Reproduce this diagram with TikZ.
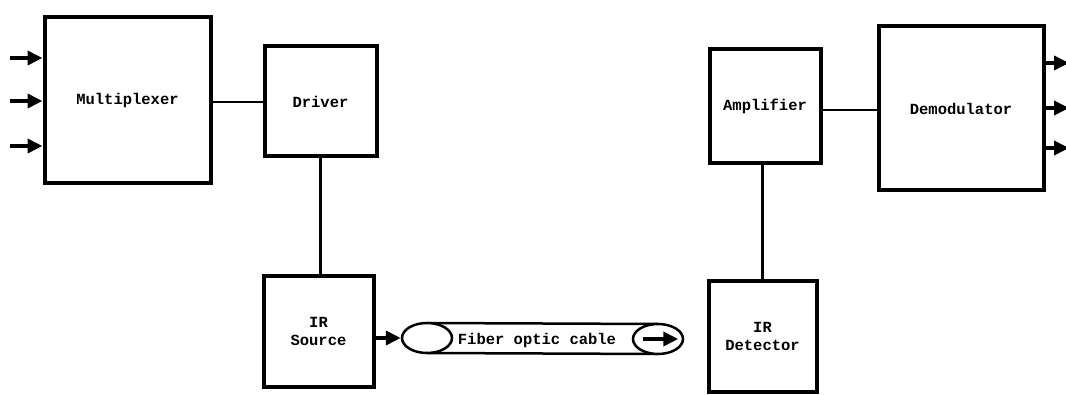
\documentclass[tikz,border=0pt]{standalone}
\usepackage{fontspec}
\setmonofont{Liberation Mono}
\usetikzlibrary{positioning,arrows.meta,calc,shapes.geometric}
\tikzset{
  blk/.style={draw, line width=4pt, align=center, inner sep=0pt,
    font=\ttfamily\bfseries\fontsize{15.5}{18}\selectfont},
  wire/.style={line width=2.2pt},
  sig/.style={-{Triangle[length=15pt,width=14pt]}, line width=4.5pt},
  cabend/.style={draw, ellipse, line width=2.5pt, minimum width=50pt, minimum height=30pt, inner sep=0pt, fill=white},
  tube/.style={line width=2.5pt},
  txt/.style={font=\ttfamily\bfseries\fontsize{15.5}{18}\selectfont}
}
\begin{document}
\begin{tikzpicture}[x=1pt, y=-1pt]
    \useasboundingbox (0,0) rectangle (1066,395);
    % transmitter side
    \node[blk, minimum width=166pt, minimum height=166pt] (mux) at (127.5,100) {Multiplexer};
    \node[blk, minimum width=112pt, minimum height=110pt] (driver) at (320.5,101.5) {Driver};
    \node[blk, minimum width=110pt, minimum height=110pt] (src) at (318.5,331.5) {IR\\Source};
    % receiver side
    \node[blk, minimum width=111pt, minimum height=114pt] (amp) at (765,106.5) {Amplifier};
    \node[blk, minimum width=165pt, minimum height=164pt] (demod) at (961,108.5) {Demodulator};
    \node[blk, minimum width=108pt, minimum height=110pt] (det) at (762.5,336.5) {IR\\Detector};
    % fiber
    \draw[tube] (427,323) coordinate (ta) -- (658,324) coordinate (tb);
    \draw[tube] (427,353) coordinate (tc) -- (658,354) coordinate (td);
    \node[cabend] (cabin) at (427,338) {};
    \node[cabend] (cabout) at (658,339) {};
    \node[txt] (cablbl) at (537,340) {Fiber optic cable};
    \draw[sig] ([xshift=11pt]cabout.west) -- ([xshift=-6pt]cabout.east);
    % inputs and outputs
    \foreach \i/\y in {1/58,2/101,3/146} {
      \coordinate (in\i) at (10,\y);
      \draw[sig] (in\i) -- (mux.west |- in\i);
    }
    \foreach \i/\y in {1/63,2/108,3/148} {
      \coordinate (out\i) at (1069,\y);
      \draw[sig] (demod.east |- out\i) -- (out\i);
    }
    % links
    \draw[wire] (mux.east |- 0,102) -- (driver.west |- 0,102);
    \draw[wire] (driver.south) -- (driver.south |- src.north);
    \draw[sig] (src.east |- cabin.west) -- (cabin.west);
    \draw[wire] (amp.east |- 0,110) -- (demod.west |- 0,110);
    \draw[wire] (amp.south -| det.north) -- (det.north);
\end{tikzpicture}
\end{document}
